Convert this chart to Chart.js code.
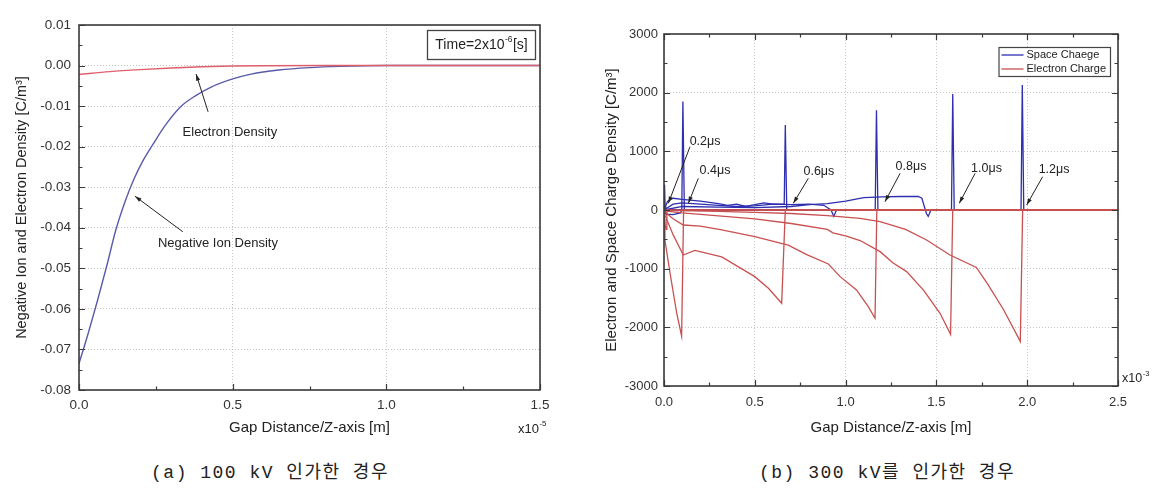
<!DOCTYPE html>
<html>
<head>
<meta charset="utf-8">
<script src="https://cdn.jsdelivr.net/npm/chart.js@4.4.1/dist/chart.umd.min.js"></script>
<style>
body { margin: 0; background: #fff; width: 1160px; height: 494px; position: relative; overflow: hidden; }
canvas { position: absolute; top: 0; }
#chartA { left: 0; }
#chartB { left: 580px; }
.cap { position: absolute; top: 457px; font-family: "Liberation Mono", "Noto Sans CJK KR", monospace; font-size: 18px; letter-spacing: 1.5px; color: #222; white-space: pre; transform: translateX(-50%); }
</style>
</head>
<body>
<canvas id="chartA" width="580" height="445"></canvas>
<canvas id="chartB" width="580" height="445"></canvas>
<div class="cap" style="left:270px">(a) 100 kV 인가한 경우</div>
<div class="cap" style="left:887px">(b) 300 kV를 인가한 경우</div>
<script>
// (a) 100 kV : gap distance in units of 1e-5 m
const ionX = [0, 0.03, 0.06, 0.09, 0.12, 0.15, 0.18, 0.21, 0.24, 0.28, 0.33, 0.38, 0.43, 0.5, 0.56, 0.65, 0.75, 0.85, 1.0, 1.5];
const ionY = [-0.0735, -0.066, -0.058, -0.0495, -0.0405, -0.0335, -0.0278, -0.0232, -0.0195, -0.0148, -0.0102, -0.0074, -0.0053, -0.0033, -0.0021, -0.0011, -0.0005, -0.0002, 0, 0];
const elecX = [0, 0.1, 0.2, 0.3, 0.4, 0.5, 0.6, 0.8, 1.5];
const elecY = [-0.0022, -0.0015, -0.001, -0.0006, -0.0003, -0.00012, -0.00004, 0, 0];

// (b) 300 kV : gap distance in units of 1e-3 m, one curve per time step
const timeSteps = ["0.2μs", "0.4μs", "0.6μs", "0.8μs", "1.0μs", "1.2μs"];

const space02X = [0, 0.003, 0.006, 0.01, 2.5];
const space02Y = [0, 430, 60, 0, 0];
const space04X = [0, 0.01, 0.05, 0.09, 0.098, 0.104, 0.112, 2.5];
const space04Y = [0, -70, -80, -50, 0, 1850, 0, 0];
const space06X = [0, 0.02, 0.05, 0.1, 0.2, 0.3, 0.35, 0.4, 0.45, 0.5, 0.55, 0.6, 0.662, 0.668, 0.676, 2.5];
const space06Y = [0, 150, 200, 180, 150, 110, 80, 100, 60, 90, 120, 100, 100, 1450, 0, 0];
const space08X = [0, 0.05, 0.1, 0.2, 0.3, 0.4, 0.5, 0.6, 0.7, 0.8, 0.88, 0.92, 0.935, 0.95, 1.163, 1.17, 1.178, 2.5];
const space08Y = [0, 100, 120, 100, 80, 60, 70, 100, 90, 100, 80, 0, -110, 0, 0, 1700, 0, 0];
const space10X = [0, 0.1, 0.3, 0.5, 0.7, 0.8, 0.9, 1.0, 1.1, 1.2, 1.3, 1.4, 1.42, 1.445, 1.455, 1.47, 1.583, 1.59, 1.598, 2.5];
const space10Y = [0, 60, 50, 40, 60, 90, 110, 150, 210, 225, 230, 230, 200, -60, -110, 0, 0, 1976, 0, 0];
const space12X = [0, 1.966, 1.973, 1.981, 2.5];
const space12Y = [0, 0, 2130, 0, 0];

const elec02X = [0, 0.006, 0.012, 0.016, 2.5];
const elec02Y = [-100, -260, -330, 0, 0];
const elec04X = [0, 0.005, 0.033, 0.07, 0.097, 0.108, 2.5];
const elec04Y = [-150, -511, -1070, -1760, -2150, 0, 0];
const elec06X = [0, 0.05, 0.106, 0.17, 0.318, 0.5, 0.575, 0.648, 0.668, 2.5];
const elec06Y = [-50, -420, -767, -690, -800, -1136, -1334, -1590, 0, 0];
const elec08X = [0, 0.05, 0.106, 0.2, 0.318, 0.5, 0.684, 0.786, 0.905, 0.97, 1.06, 1.125, 1.162, 1.172, 2.5];
const elec08Y = [-20, -150, -256, -275, -340, -455, -600, -760, -920, -1136, -1363, -1647, -1845, 0, 0];
const elec10X = [0, 0.1, 0.3, 0.5, 0.7, 0.9, 0.93, 1.0, 1.08, 1.19, 1.26, 1.336, 1.43, 1.52, 1.578, 1.59, 2.5];
const elec10Y = [-15, -50, -100, -150, -230, -330, -390, -440, -520, -710, -900, -1050, -1370, -1760, -2120, 0, 0];
const elec12X = [0, 0.3, 0.5, 0.7, 0.9, 1.08, 1.19, 1.33, 1.446, 1.575, 1.72, 1.78, 1.87, 1.962, 1.975, 2.5];
const elec12Y = [-5, -25, -40, -60, -95, -142, -200, -330, -511, -767, -980, -1250, -1700, -2240, 0, 0];

const FONT = "'Liberation Sans', Arial, sans-serif";

function pts(xs, ys) {
    return xs.map((x, i) => ({ x: x, y: ys[i] }));
}

function clean(v, d) {
    if (Math.abs(v) < 1e-9) v = 0;
    return v.toFixed(d);
}

// frame, inward major/minor ticks
function frameTicks(allSides) {
    return {
        id: "frameTicks",
        afterDatasetsDraw(chart) {
            const { ctx, chartArea: a, scales } = chart;
            ctx.save();
            ctx.strokeStyle = "#3a3a3a";
            ctx.lineWidth = 1.2;
            const marks = (scale) => {
                const vals = scale.ticks.map((t) => t.value);
                const out = [];
                vals.forEach((v, i) => {
                    out.push([v, 6]);
                    if (i < vals.length - 1) out.push([(v + vals[i + 1]) / 2, 3.5]);
                });
                return out;
            };
            ctx.beginPath();
            marks(scales.x).forEach(([v, len]) => {
                const p = Math.round(scales.x.getPixelForValue(v)) + 0.5;
                ctx.moveTo(p, a.bottom);
                ctx.lineTo(p, a.bottom - len);
                if (allSides) {
                    ctx.moveTo(p, a.top);
                    ctx.lineTo(p, a.top + len);
                }
            });
            marks(scales.y).forEach(([v, len]) => {
                const p = Math.round(scales.y.getPixelForValue(v)) + 0.5;
                ctx.moveTo(a.left, p);
                ctx.lineTo(a.left + len, p);
                if (allSides) {
                    ctx.moveTo(a.right, p);
                    ctx.lineTo(a.right - len, p);
                }
            });
            ctx.stroke();
            ctx.lineWidth = 1.6;
            ctx.strokeRect(a.left, a.top, a.right - a.left, a.bottom - a.top);
            ctx.restore();
        },
    };
}

function arrow(ctx, x0, y0, x1, y1) {
    const ang = Math.atan2(y1 - y0, x1 - x0);
    ctx.beginPath();
    ctx.moveTo(x0, y0);
    ctx.lineTo(x1, y1);
    ctx.stroke();
    ctx.beginPath();
    ctx.moveTo(x1, y1);
    ctx.lineTo(x1 - 7 * Math.cos(ang - 0.3), y1 - 7 * Math.sin(ang - 0.3));
    ctx.lineTo(x1 - 7 * Math.cos(ang + 0.3), y1 - 7 * Math.sin(ang + 0.3));
    ctx.closePath();
    ctx.fill();
}

// text + arrow annotations given in data coordinates
function notes(list, size) {
    return {
        id: "notes",
        afterDraw(chart) {
            const { ctx, scales: { x, y } } = chart;
            ctx.save();
            ctx.fillStyle = "#222";
            ctx.strokeStyle = "#222";
            ctx.lineWidth = 1;
            ctx.font = size + "px " + FONT;
            ctx.textAlign = "center";
            ctx.textBaseline = "middle";
            list.forEach((n) => {
                ctx.fillText(n.text, x.getPixelForValue(n.tx), y.getPixelForValue(n.ty));
                arrow(ctx, x.getPixelForValue(n.from[0]), y.getPixelForValue(n.from[1]),
                    x.getPixelForValue(n.to[0]), y.getPixelForValue(n.to[1]));
            });
            ctx.restore();
        },
    };
}

function expLabel(ctx, base, exp, x, y, size) {
    ctx.font = size + "px " + FONT;
    ctx.textAlign = "left";
    ctx.textBaseline = "middle";
    ctx.fillText(base, x, y);
    const w = ctx.measureText(base).width;
    ctx.font = (size * 0.6) + "px " + FONT;
    ctx.fillText(exp, w + x + 0.5, y - size * 0.4);
    return w + ctx.measureText(exp).width + 1;
}

const leftNotes = [
    { text: "Electron Density", tx: 0.491, ty: -0.0166, from: [0.42, -0.0114], to: [0.381, -0.0021] },
    { text: "Negative Ion Density", tx: 0.452, ty: -0.0438, from: [0.338, -0.0410], to: [0.182, -0.0322] },
];

const rightNotes = [
    { text: timeSteps[0], tx: 0.226, ty: 1164, from: [0.143, 1078], to: [0.024, 114] },
    { text: timeSteps[1], tx: 0.281, ty: 681, from: [0.189, 540], to: [0.134, 114] },
    { text: timeSteps[2], tx: 0.853, ty: 652, from: [0.795, 540], to: [0.712, 114] },
    { text: timeSteps[3], tx: 1.36, ty: 738, from: [1.30, 625], to: [1.217, 141] },
    { text: timeSteps[4], tx: 1.776, ty: 715, from: [1.713, 625], to: [1.626, 114] },
    { text: timeSteps[5], tx: 2.148, ty: 698, from: [2.085, 567], to: [1.997, 85] },
];

const leftExtras = {
    id: "leftExtras",
    afterDraw(chart) {
        const { ctx, chartArea: a } = chart;
        ctx.save();
        ctx.fillStyle = "#222";
        // time box
        ctx.strokeStyle = "#444";
        ctx.lineWidth = 1.3;
        ctx.strokeRect(427.5, 30.5, 108, 29);
        ctx.font = "14px " + FONT;
        let w = ctx.measureText("Time=2x10").width;
        ctx.font = "8.4px " + FONT;
        w += ctx.measureText("-6").width;
        ctx.font = "14px " + FONT;
        w += ctx.measureText("[s]").width + 1;
        const sx = 481.5 - w / 2;
        const ww = expLabel(ctx, "Time=2x10", "-6", sx, 45, 14);
        ctx.font = "14px " + FONT;
        ctx.fillText("[s]", sx + ww, 45);
        // exponent of x axis
        expLabel(ctx, "x10", "-5", a.right - 22, 429, 13);
        ctx.restore();
    },
};

const rightExtras = {
    id: "rightExtras",
    afterDraw(chart) {
        const { ctx, chartArea: a } = chart;
        ctx.save();
        ctx.fillStyle = "#222";
        expLabel(ctx, "x10", "-3", a.right + 4, 379, 12.5);
        // legend
        const rows = [["Space Chaege", "#2e2eb0"], ["Electron Charge", "#c85050"]];
        ctx.font = "11px " + FONT;
        const tw = Math.max(...rows.map((r) => ctx.measureText(r[0]).width));
        const bw = tw + 32;
        const bx = a.right - 8 - bw, by = a.top + 13;
        ctx.fillStyle = "#fff";
        ctx.fillRect(bx, by, bw, 29);
        ctx.strokeStyle = "#444";
        ctx.lineWidth = 1.2;
        ctx.strokeRect(bx + 0.5, by + 0.5, bw, 29);
        rows.forEach(([label, col], i) => {
            const ry = by + 8 + i * 14;
            ctx.strokeStyle = col;
            ctx.lineWidth = 1.3;
            ctx.beginPath();
            ctx.moveTo(bx + 3, ry);
            ctx.lineTo(bx + 25, ry);
            ctx.stroke();
            ctx.fillStyle = "#222";
            ctx.font = "11px " + FONT;
            ctx.textAlign = "left";
            ctx.textBaseline = "middle";
            ctx.fillText(label, bx + 28, ry);
        });
        ctx.restore();
    },
};

function axisOpts(min, max, step, digits, size, titleText, titleSize, pad) {
    return {
        type: "linear",
        min: min,
        max: max,
        ticks: {
            stepSize: step,
            callback: (v) => clean(v, digits),
            font: { family: FONT, size: size },
            color: "#333",
            padding: pad,
        },
        grid: { color: "#c4c4c4", drawTicks: false, lineWidth: 1 },
        border: { display: false, dash: [1, 2] },
        title: {
            display: true,
            text: titleText,
            color: "#222",
            font: { family: FONT, size: titleSize },
        },
    };
}

// ---------- (a)
const ax = axisOpts(0, 1.5, 0.5, 1, 13.5, "Gap Distance/Z-axis [m]", 15, 7);
ax.title.padding = { top: 0, bottom: 8 };
ax.afterFit = (s) => { s.height = 55; };
const ay = axisOpts(-0.08, 0.01, 0.01, 2, 13.5, "Negative Ion and Electron Density [C/m³]", 14.5, 8);
ay.title.padding = { top: 13, bottom: 0 };
ay.afterFit = (s) => { s.width = 79; };

new Chart(document.getElementById("chartA"), {
    type: "scatter",
    data: {
        datasets: [
            {
                data: pts(elecX, elecY),
                showLine: true,
                borderColor: "#de5f6c",
                borderWidth: 1.4,
                pointRadius: 0,
                cubicInterpolationMode: "monotone",
                order: 0,
            },
            {
                data: pts(ionX, ionY),
                showLine: true,
                borderColor: "#5a5aa8",
                borderWidth: 1.4,
                pointRadius: 0,
                cubicInterpolationMode: "monotone",
                order: 1,
            },
        ],
    },
    options: {
        responsive: false,
        animation: false,
        devicePixelRatio: 1,
        layout: { padding: { top: 25, right: 40, left: 0, bottom: 0 } },
        scales: { x: ax, y: ay },
        plugins: { legend: { display: false }, tooltip: { enabled: false } },
    },
    plugins: [frameTicks(false), notes(leftNotes, 13), leftExtras],
});

// ---------- (b)
const spaceSets = [
    [space02X, space02Y], [space04X, space04Y], [space06X, space06Y],
    [space08X, space08Y], [space10X, space10Y], [space12X, space12Y],
];
const elecSets = [
    [elec02X, elec02Y], [elec04X, elec04Y], [elec06X, elec06Y],
    [elec08X, elec08Y], [elec10X, elec10Y], [elec12X, elec12Y],
];

const bx = axisOpts(0, 2.5, 0.5, 1, 13, "Gap Distance/Z-axis [m]", 15, 9);
bx.title.padding = { top: 0, bottom: 8 };
bx.afterFit = (s) => { s.height = 59; };
const by = axisOpts(-3000, 3000, 1000, 0, 13, "Electron and Space Charge Density [C/m³]", 15, 6);
by.title.padding = { top: 23, bottom: 0 };
by.afterFit = (s) => { s.width = 84; };

const lineSet = (xy, col, ord) => ({
    data: pts(xy[0], xy[1]),
    showLine: true,
    borderColor: col,
    borderWidth: 1.3,
    pointRadius: 0,
    tension: 0,
    order: ord,
});

new Chart(document.getElementById("chartB"), {
    type: "scatter",
    data: {
        datasets: [
            ...elecSets.map((xy) => lineSet(xy, "#c85050", 0)),
            ...spaceSets.map((xy) => lineSet(xy, "#2e2eb0", 1)),
        ],
    },
    options: {
        responsive: false,
        animation: false,
        devicePixelRatio: 1,
        layout: { padding: { top: 34, right: 42, left: 0, bottom: 0 } },
        scales: { x: bx, y: by },
        plugins: { legend: { display: false }, tooltip: { enabled: false } },
    },
    plugins: [frameTicks(true), notes(rightNotes, 12.5), rightExtras],
});
</script>
</body>
</html>
